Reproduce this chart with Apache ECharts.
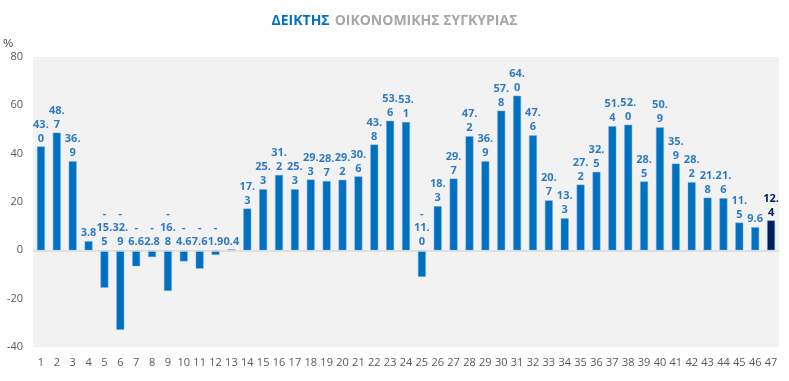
<!DOCTYPE html>
<html><head><meta charset="utf-8">
<script src="https://cdn.jsdelivr.net/npm/echarts@6/dist/echarts.min.js"></script>
<style>html,body{margin:0;padding:0;background:#fff}#c{width:789px;height:381px}</style>
</head><body><div id="c"></div>
<script>
const categories = [];
for (let i = 1; i <= 47; i++) categories.push(String(i));
const values = [43.0,48.7,36.9,3.8,-15.5,-32.9,-6.6,-2.8,-16.8,-4.6,-7.6,-1.9,0.4,17.3,25.3,31.2,25.3,29.3,28.7,29.2,30.6,43.8,53.6,53.1,-11.0,18.3,29.7,47.2,36.9,57.8,64.0,47.6,20.7,13.3,27.2,32.5,51.4,52.0,28.5,50.9,35.9,28.2,21.8,21.6,11.5,9.6,12.4];
const yTicks = {min:-40, max:80, interval:20};
const titleMain = 'ΔΕΙΚΤΗΣ';
const titleRest = 'ΟΙΚΟΝΟΜΙΚΗΣ ΣΥΓΚΥΡΙΑΣ';

const barColor = '#0070C0', lastColor = '#002060', labelColor = '#2E7BC4';
function fmt(v){
  const s = Math.abs(v).toFixed(1);
  const lines = [];
  if (v < 0) lines.push('-');
  if (s.length > 3) { const p = s.indexOf('.'); lines.push(s.slice(0,p+1)); lines.push(s.slice(p+1)); }
  else lines.push(s);
  return lines.join('\n');
}
const data = values.map((v,i)=>{
  const last = i === values.length-1;
  return {value:v, itemStyle:{color: last?lastColor:barColor}, label:{color: last?lastColor:labelColor}};
});
const chart = echarts.init(document.getElementById('c'));
chart.setOption({
  animation:false,
  title:{
    text:'{a|'+titleMain+'} {b|'+titleRest+'}',
    left:'center', top:7,
    textStyle:{rich:{
      a:{fontFamily:'Open Sans',fontSize:14,fontWeight:'bold',color:'#0070C0'},
      b:{fontFamily:'Open Sans',fontSize:14,color:'#A6A6A6'}
    }}
  },
  grid:{left:33,right:10,top:57,bottom:34,show:true,backgroundColor:'#F2F2F2',borderWidth:0},
  xAxis:{type:'category',data:categories,
    axisLine:{show:false},axisTick:{show:false},
    axisLabel:{interval:0,color:'#595959',fontSize:11,fontFamily:'Open Sans',margin:10}},
  yAxis:{type:'value',min:yTicks.min,max:yTicks.max,interval:yTicks.interval,
    name:'%',nameLocation:'end',nameGap:8,nameTextStyle:{color:'#404040',fontSize:11,align:'right',padding:[0,20,0,0]},
    splitLine:{show:false},axisLine:{show:false},axisTick:{show:false},
    axisLabel:{color:'#595959',fontSize:11,fontFamily:'Open Sans',margin:10}},
  series:[{
    type:'bar',data:data,barWidth:8,
    itemStyle:{borderColor:'rgba(120,170,220,0.8)',borderWidth:0.6},
    markLine:{silent:true,symbol:'none',label:{show:false},lineStyle:{color:'#D9D9D9',width:1.5,type:'solid'},data:[{yAxis:0}]},
    label:{show:true,position:'top',distance:1,fontFamily:'Open Sans',fontSize:11,fontWeight:'bold',lineHeight:14,
      formatter:p=>fmt(p.value)}
  }]
});
</script></body></html>
